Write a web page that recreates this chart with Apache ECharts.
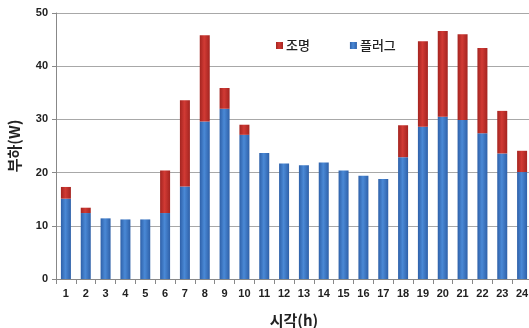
<!DOCTYPE html>
<html><head><meta charset="utf-8">
<script src="https://cdn.jsdelivr.net/npm/echarts@6/dist/echarts.min.js"></script>
<style>html,body{margin:0;padding:0;background:#fff}#c{width:529px;height:328px}</style>
</head><body><div id="c"></div>
<script>
const hours = ['1','2','3','4','5','6','7','8','9','10','11','12','13','14','15','16','17','18','19','20','21','22','23','24'];
const plug = [15.1,12.4,11.4,11.2,11.2,12.4,17.4,29.6,32.0,27.1,23.7,21.7,21.4,21.9,20.4,19.4,18.8,22.9,28.6,30.5,29.9,27.4,23.6,20.1];
const light = [2.2,1.0,0,0,0,8.0,16.2,16.2,3.9,1.9,0,0,0,0,0,0,0,6.0,16.1,16.1,16.1,16.0,8.0,4.0];
const yTicks = [0,10,20,30,40,50];

function grad(edge, mid){
  return new echarts.graphic.LinearGradient(0,0,1,0,[
    {offset:0,color:edge},{offset:0.45,color:mid},{offset:1,color:edge}]);
}
const chart = echarts.init(document.getElementById('c'));
const fontBold = {fontFamily:'Liberation Sans, Arial, sans-serif', fontWeight:'bold', color:'#222'};
chart.setOption({
  animation:false,
  grid:{left:56,right:-3,top:13,bottom:49,outerBoundsMode:'none',containLabel:false},
  legend:{
    data:['조명','플러그'], left:271, top:34, itemWidth:7, itemHeight:7, itemGap:40,
    icon:'rect',
    textStyle:{fontFamily:'Noto Sans CJK KR', fontSize:13, fontWeight:500, color:'#222', padding:[0,0,0,-2]}
  },
  xAxis:{
    type:'category', data:hours,
    name:'시각(h)', nameLocation:'middle', nameGap:34,
    nameTextStyle:{fontFamily:'Noto Sans CJK KR', fontWeight:'bold', fontSize:15, color:'#222'},
    axisLine:{lineStyle:{color:'#888'}},
    axisTick:{show:true, alignWithLabel:false, length:5, lineStyle:{color:'#888'}},
    axisLabel:Object.assign({fontSize:11, margin:9}, fontBold)
  },
  yAxis:{
    type:'value', min:0, max:50, interval:10,
    name:'부하(W)', nameLocation:'middle', nameGap:34, nameRotate:90,
    nameTextStyle:{fontFamily:'Noto Sans CJK KR', fontWeight:'bold', fontSize:15, color:'#222'},
    axisLine:{show:true, lineStyle:{color:'#888'}},
    axisTick:{show:true, length:4, lineStyle:{color:'#888'}},
    axisLabel:Object.assign({fontSize:11, margin:8, formatter:v=>yTicks.includes(v)?String(v):''}, fontBold),
    splitLine:{lineStyle:{color:'#a8a8a8'}}
  },
  series:[
    {name:'플러그', type:'bar', stack:'s', data:plug, barWidth:10,
     itemStyle:{color:grad('#2e60a8','#4a89d6')}},
    {name:'조명', type:'bar', stack:'s', data:light, barWidth:10,
     itemStyle:{color:grad('#a42420','#d13a34')}}
  ]
});
</script></body></html>
